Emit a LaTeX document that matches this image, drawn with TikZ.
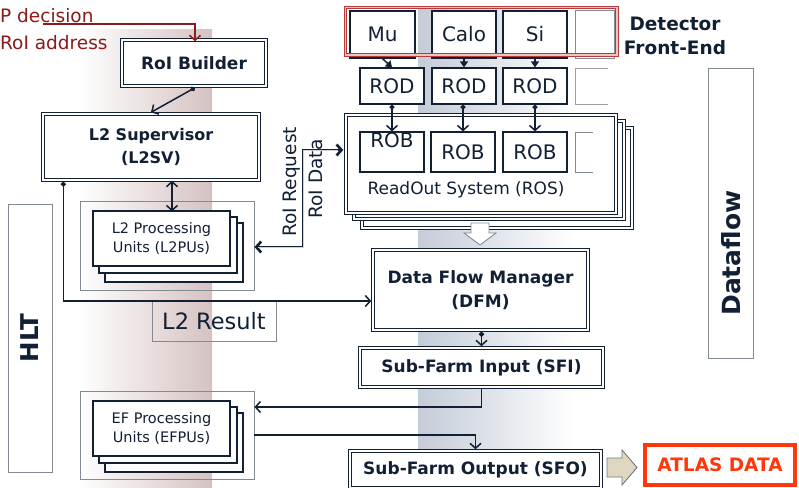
\documentclass[tikz,border=0pt]{standalone}
\usepackage{fontspec}
\setmainfont{DejaVu Sans}
\usetikzlibrary{arrows.meta,calc}
\definecolor{ink}{RGB}{18,32,52}
\definecolor{frame}{RGB}{130,138,148}
\definecolor{bandred}{RGB}{214,194,194}
\definecolor{bandblue}{RGB}{196,204,216}
\definecolor{detred}{RGB}{185,60,60}
\definecolor{detpink}{RGB}{236,196,196}
\definecolor{lvlred}{RGB}{140,26,26}
\definecolor{atlasred}{RGB}{255,55,10}
\definecolor{beige}{RGB}{222,216,192}
\tikzset{
  vbarb/.tip={Straight Barb[length=5pt,width=11pt]},
  box/.style={draw=ink, line width=1.2pt, fill=white, inner sep=0pt, text=ink, align=center},
  dbox/.style={draw=ink, line width=3.4pt, fill=white, inner sep=0pt, text=ink, align=center,
               postaction={draw=white, line width=1.2pt}},
  thinbox/.style={draw=frame, line width=0.9pt, inner sep=0pt, text=ink},
  link/.style={draw=ink, line width=1.5pt},
  arr/.style={link, -vbarb},
  dotarr/.style={link, {Circle[length=5pt]}-vbarb},
  botharr/.style={link, vbarb-vbarb},
  triarr/.style={link, -{Triangle[length=6pt,width=8pt]}},
  bigbf/.style={font=\fontsize{17}{24}\selectfont\bfseries},
  regtext/.style={font=\fontsize{20}{24}\selectfont},
  smalltext/.style={font=\fontsize{14.5}{19}\selectfont},
}
\begin{document}
\begin{tikzpicture}[x=1pt,y=-1pt]
\useasboundingbox (0,0) rectangle (799,487);
\fill[white] (0,0) rectangle (799,487);

% shaded background bands
\shade[left color=white, right color=bandred] (78,30) rectangle (212,487);
\shade[left color=bandblue, right color=white] (418,8) rectangle (575,487);

% level-1 input
\node[anchor=base west, text=lvlred, font=\fontsize{18.5}{22}\selectfont, inner sep=0pt] (lvla) at (0,23) {P decision};
\node[anchor=base west, text=lvlred, font=\fontsize{18.5}{22}\selectfont, inner sep=0pt] (lvlb) at (0,49) {RoI address};
\coordinate (lvlstart) at (43,24);

% RoI builder and supervisor
\node[dbox, bigbf, minimum width=144pt, minimum height=46pt] (rb) at (194,63) {RoI Builder};
\node[dbox, font=\fontsize{16}{23}\selectfont\bfseries, minimum width=216pt, minimum height=66pt] (l2sv) at (151,147) {L2 Supervisor\\(L2SV)};

% L2 processing units
\node[thinbox, minimum width=174pt, minimum height=89pt] (l2out) at (167,245.5) {};
\draw[box] (105,223) rectangle (243,282);
\draw[box] (99,217) rectangle (237,273);
\node[box, smalltext, minimum width=137pt, minimum height=55pt] (l2pu) at (161.5,238.5) {L2 Processing\\Units (L2PUs)};

% EF processing units
\node[thinbox, minimum width=174pt, minimum height=88pt] (efout) at (167,435) {};
\draw[box] (105,413) rectangle (243,472);
\draw[box] (99,407) rectangle (237,463);
\node[box, smalltext, minimum width=137pt, minimum height=55pt] (efpu) at (161.5,428.5) {EF Processing\\Units (EFPUs)};

% HLT and Dataflow side bars
\node[thinbox, fill=white, minimum width=44pt, minimum height=268pt] (hlt) at (30,338) {};
\node[rotate=90, text=ink, font=\fontsize{24.5}{28}\selectfont\bfseries] (hltlabel) at (30,338) {HLT};
\node[thinbox, fill=white, minimum width=45pt, minimum height=290pt] (dflow) at (730.5,213) {};
\node[rotate=90, text=ink, font=\fontsize{25}{28}\selectfont\bfseries] (dflowlabel) at (731,253) {Dataflow};

% L2 result label
\node[thinbox, font=\fontsize{22.5}{26}\selectfont, minimum width=124pt, minimum height=40pt] (l2res) at (214,321) {L2 Result};

% detector front-end
\node[box, regtext, minimum width=65pt, minimum height=47pt] (mu) at (382.5,34.5) {Mu};
\node[box, regtext, minimum width=64pt, minimum height=47pt] (calo) at (464,34.5) {Calo};
\node[box, regtext, minimum width=64pt, minimum height=47pt] (si) at (535,34.5) {Si};
\node[draw=frame, line width=1pt, fill=white, minimum width=39pt, minimum height=47pt] (fe4) at (594.5,34.5) {};
\draw[detred, double=detpink, double distance=1.6pt, line width=0.8pt] (345.5,7.5) rectangle (617,55);
\node[text=ink, align=center, font=\fontsize{18.5}{24}\selectfont\bfseries] (detlabel) at (675,36) {Detector\\Front-End};

% read-out drivers
\node[box, regtext, minimum width=64pt, minimum height=36pt] (rod1) at (392,86) {ROD};
\node[box, regtext, minimum width=64pt, minimum height=36pt] (rod2) at (464,86) {ROD};
\node[box, regtext, minimum width=64pt, minimum height=36pt] (rod3) at (535,86) {ROD};
\draw[frame!80, line width=1pt] (608,68) -- (575,68) -- (575,104) -- (608,104);

% read-out system
\draw[dbox] (362,128) rectangle (632,228);
\draw[dbox] (354,121) rectangle (624,219);
\node[dbox, minimum width=270pt, minimum height=98pt] (ros) at (481,164) {};
\node[box, minimum width=64pt, minimum height=40pt] (rob1) at (392,152) {};
\node[text=ink, regtext, inner sep=0pt] (rob1label) at (392,140) {ROB};
\node[box, regtext, minimum width=64pt, minimum height=40pt] (rob2) at (463,152) {ROB};
\node[box, regtext, minimum width=64pt, minimum height=40pt] (rob3) at (535,152) {ROB};
\draw[frame, line width=1pt] (593,132) -- (575,132) -- (575,172) -- (593,172);
\node[text=ink, font=\fontsize{17}{20}\selectfont] (roslabel) at (466,190) {ReadOut System (ROS)};

% event building chain
\node[dbox, bigbf, minimum width=215pt, minimum height=80pt] (dfm) at (480.5,290) {Data Flow Manager\\(DFM)};
\node[dbox, bigbf, minimum width=243pt, minimum height=39pt] (sfi) at (481.5,367.5) {Sub-Farm Input (SFI)};
\node[dbox, bigbf, minimum width=251pt, minimum height=37pt] (sfo) at (475.5,469.5) {Sub-Farm Output (SFO)};
\node[draw=atlasred, line width=3.5pt, fill=white, text=atlasred, inner sep=0pt, minimum width=150pt, minimum height=40pt, font=\fontsize{18.5}{22}\selectfont\bfseries] (atlas) at (720,465) {ATLAS DATA};

% block arrows
\draw[frame, fill=white, line width=0.9pt] (471,223) -- (489,223) -- (489,233) -- (496,233) -- (480,245) -- (464,233) -- (471,233) -- cycle;
\draw[ink!60, fill=beige, line width=0.9pt] (607,458) -- (622,458) -- (622,450) -- (637,467.5) -- (622,485) -- (622,477) -- (607,477) -- cycle;

% connectors
\draw[link, draw=lvlred, -vbarb] (lvlstart) -| ([xshift=1pt,yshift=-3pt]rb.north);
\draw[dotarr] ([xshift=1pt]rb.south) -- (l2sv.north);
\draw[botharr] ([xshift=21pt,yshift=1pt]l2sv.south) -- ([xshift=10.5pt,yshift=-1pt]l2pu.north);

\draw[triarr] (mu.south) -- (rod1.north);
\draw[triarr] (calo.south) -- (rod2.north);
\draw[triarr] (si.south) -- (rod3.north);
\draw[dotarr] (rod1.south) -- (rob1.north);
\draw[dotarr] (rod2.south -| rob2.north) -- (rob2.north);
\draw[dotarr] (rod3.south) -- (rob3.north);

% RoI request / data exchange (drawn as a hollow double line)
\coordinate (roiup) at (303,150);
\coordinate (roidown) at (303,247);
\draw[link, line width=2.6pt, vbarb-vbarb] (l2out.east |- roidown) -- (roidown) -- (roiup) -- ([xshift=-1pt]ros.west |- roiup);
\draw[white!80!ink, line width=0.9pt, shorten <=4pt, shorten >=5pt] (l2out.east |- roidown) -- (roidown) -- (roiup) -- ([xshift=-1pt]ros.west |- roiup);
\node[rotate=90, text=ink, font=\fontsize{18.5}{22}\selectfont] (roireq) at (292,182) {RoI Request};
\node[rotate=90, text=ink, font=\fontsize{18.5}{22}\selectfont] (roidata) at (315.5,179) {RoI Data};

\coordinate (l2ry) at (0,301);
\draw[dotarr] ([xshift=22pt]l2sv.south west) |- (dfm.west |- l2ry);

\draw[dotarr] (dfm.south -| sfi.north) -- (sfi.north);
\coordinate (efin) at (0,407);
\coordinate (efoutl) at (0,435);
\draw[arr] (sfi.south) |- (efout.east |- efin);
\draw[arr] (efout.east |- efoutl) -| (sfo.north);
\end{tikzpicture}
\end{document}
